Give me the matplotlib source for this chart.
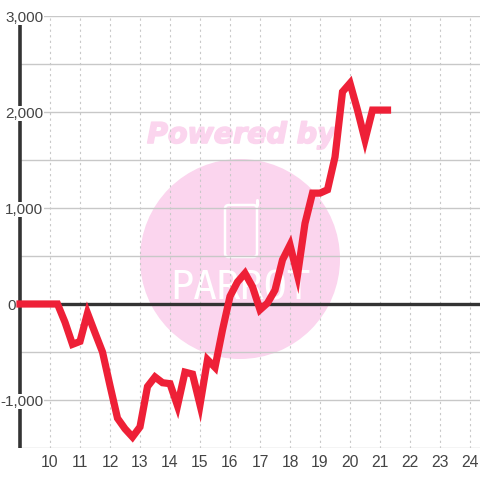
import matplotlib
matplotlib.use("Agg")
import matplotlib.pyplot as plt
import matplotlib.patheffects as pe
from matplotlib.lines import Line2D
from matplotlib.patches import Circle, FancyBboxPatch
from matplotlib.ticker import MultipleLocator

values = [0, 0, 0, 0, 0, 0, -190, -420, -390, -95, -300, -500, -850, -1190, -1300, -1385, -1280, -860,
          -760, -820, -830, -1060, -710, -730, -1050, -580, -660, -270, 80, 230, 320, 180, -60, 10,
          145, 460, 615, 300, 840, 1155, 1155, 1190, 1530, 2210, 2300, 2020, 1710, 2020, 2020, 2020]
hours = [9 + i * 0.25 for i in range(len(values))]
x_ticks = list(range(10, 25))
y_major = [-1000, 0, 1000, 2000, 3000]
y_labels = ['-1,000', '0', '1,000', '2,000', '3,000']

plt.rcParams['font.family'] = ['Liberation Sans', 'DejaVu Sans']
fig = plt.figure(figsize=(4.8, 4.8), dpi=100, facecolor='white')
W = H = 480.0
ax = fig.add_axes([20 / W, (480 - 448) / H, 460 / W, 432 / H], zorder=2)
ax.patch.set_alpha(0)
ax.set_xlim(9, 9 + 460 / 30)
ax.set_ylim(-1500, 3000)

# watermark behind the plot
PINK = '#fbd5ee'
fig.patches.append(Circle((240 / W, 221 / H), 100 / W, transform=fig.transFigure, fc=PINK, ec='none', zorder=0))
fig.patches.append(FancyBboxPatch((225 / W, 223 / H), 32 / W, 52 / H, boxstyle='round,pad=0,rounding_size=0.008',
                                  transform=fig.transFigure, fc='none', ec='white', lw=1.8, zorder=1))
fig.add_artist(Line2D([257 / W, 257 / W], [275 / H, 280 / H], color='white', lw=2.2, zorder=1, solid_capstyle='round'))
fig.text(241.5 / W, 345 / H, 'Powered by', color=PINK, fontsize=20.5, fontweight='bold', fontstyle='italic',
         fontfamily='DejaVu Sans', ha='center', va='center', zorder=1,
         path_effects=[pe.withStroke(linewidth=1.2, foreground=PINK)])
fig.text(240 / W, 191 / H, 'PARROT', color='white', fontsize=28, fontfamily='DejaVu Sans Mono',
         ha='center', va='center', zorder=1)

for s in ['top', 'right', 'bottom', 'left']:
    ax.spines[s].set_visible(False)

ax.yaxis.set_minor_locator(MultipleLocator(500))
ax.set_xticks(x_ticks)
ax.set_yticks(y_major)
ax.set_yticklabels([])
ax.grid(True, axis='y', which='both', color='#c8c8c8', lw=1, zorder=1)
ax.grid(True, axis='x', color='#c8c8c8', lw=0.8, ls=(0, (2, 3)), zorder=1)
ax.tick_params(axis='both', which='both', length=0)
ax.tick_params(axis='x', labelsize=11.3, labelcolor='#444444', pad=5)
ax.set_axisbelow(True)

ax.plot([9, 9], [-1500, 2917], color='#333333', lw=2.6, zorder=3, clip_on=False, solid_capstyle='butt')
ax.axhline(0, color='#333333', lw=2.4, zorder=3)
ax.plot(hours, values, color='#ee2037', lw=5.2, zorder=4, solid_joinstyle='miter', solid_capstyle='projecting',
        clip_on=False)

for v, lab in zip(y_major, y_labels):
    xpos = 9 + (-4 / 30 if v == 0 else 23.5 / 30)
    bbox = None if v == 0 else dict(facecolor='white', edgecolor='none', pad=0.5)
    ax.text(xpos, v, lab, ha='right', va='center_baseline', fontsize=11, color='#444444', zorder=5, bbox=bbox,
            clip_on=False)

fig.savefig('out.png', dpi=100)
